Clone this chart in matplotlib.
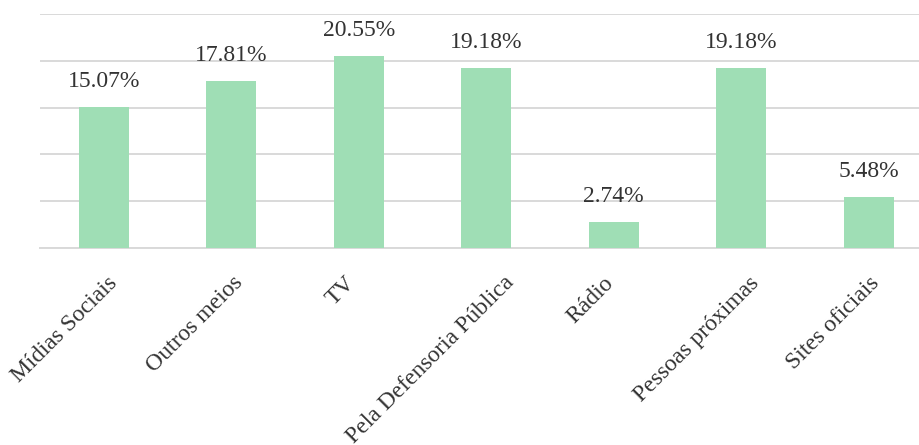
import matplotlib
matplotlib.use("Agg")
import matplotlib.pyplot as plt
import matplotlib.transforms as mtransforms

categories = ["Mídias Sociais", "Outros meios", "TV", "Pela Defensoria Pública",
              "Rádio", "Pessoas próximas", "Sites oficiais"]
values = [15.07, 17.81, 20.55, 19.18, 2.74, 19.18, 5.48]
value_labels = ["15.07%", "17.81%", "20.55%", "19.18%", "2.74%", "19.18%", "5.48%"]
y_ticks = [0, 5, 10, 15, 20, 25]

plt.rcParams["font.family"] = ["Liberation Serif", "DejaVu Serif"]

DPI = 100
TEXT_COLOR = "#333333"
fig = plt.figure(figsize=(9.2, 4.45), dpi=DPI)
ax = fig.add_axes([40 / 920, 197 / 445, 880 / 920, 234 / 445])

x = list(range(len(categories)))
bars = ax.bar(x, values, width=0.39, color="#9FDEB5", zorder=3)

ax.set_ylim(0, 25)
ax.set_xlim(-0.5, -0.5 + 880 / 127.5)
ax.set_yticks(y_ticks)
ax.yaxis.grid(True, color="#d9d9d9", linewidth=1.4, zorder=0)
ax.tick_params(axis="y", left=False, labelleft=False)
ax.tick_params(axis="x", bottom=False, pad=14)
for side in ["left", "right", "top"]:
    ax.spines[side].set_visible(False)
ax.spines["bottom"].set_color("#d9d9d9")
ax.spines["bottom"].set_linewidth(1.4)

for xi, v, lab in zip(x, values, value_labels):
    ax.annotate(lab, (xi, v), xytext=(0, 14.5), textcoords="offset points",
                ha="center", va="baseline", fontsize=17, color=TEXT_COLOR)

ax.set_xticks(x)
ax.set_xticklabels(categories, rotation=45, ha="right", fontsize=17,
                   color=TEXT_COLOR)

# shift longer rotated labels slightly right so they sit under their bars
fig.canvas.draw()
renderer = fig.canvas.get_renderer()
for t in ax.get_xticklabels():
    ext = t.get_window_extent(renderer)
    shift_px = 0.225 * ext.width - 8
    t.set_transform(t.get_transform() +
                    mtransforms.ScaledTranslation(shift_px / DPI, 0, fig.dpi_scale_trans))

fig.savefig("out.png", dpi=DPI, facecolor="white")
